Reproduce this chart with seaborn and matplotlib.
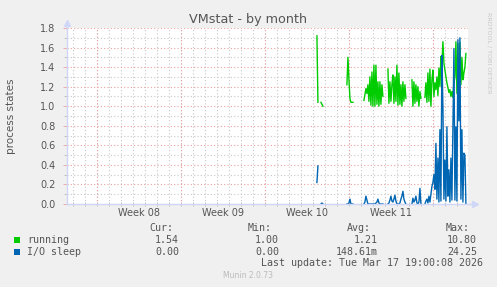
import numpy as np
import pandas as pd
import matplotlib
matplotlib.use("Agg")
import matplotlib.pyplot as plt
from matplotlib.ticker import MultipleLocator, FixedLocator, FormatStrFormatter
from matplotlib.patches import Rectangle
import seaborn as sns

nan = np.nan

# ---------------- data ----------------
# samples every 2 hours; time measured in days from the start of Week 08
FIRST_DAY = 18.33
STEP_DAYS = 1 / 12

running = [
    1.72, 1.04, nan, nan, 1.04, 1.02, 1.00,
    nan, nan, nan, nan, nan, nan, nan, nan, nan, nan, nan, nan,
    nan, nan, nan, nan, nan, nan, nan, nan, nan, nan, nan,
    1.22, 1.50, 1.28, 1.08, 1.04, 1.04, 1.04,
    nan, nan, nan, nan, nan, nan, nan, nan, nan, nan,
    1.06, 1.12, 1.18, 1.13, 1.22, 1.05, 1.30, 1.01, 1.35, 1.00,
    1.42, 1.00, 1.42, 1.02, 1.25, 1.00, 1.25, 1.02, 1.22, 1.10,
    nan, nan, nan, nan,
    1.38, 1.03, 1.25, 1.05, 1.22, 1.32, 1.03, 1.30, 1.05, 1.42,
    1.01, 1.34, 1.02, 1.22, 1.00, 1.25, 1.05, 1.22, 1.08,
    nan, nan, nan, nan, nan,
    1.27, 1.00, 1.25, 1.03, 1.22, 1.05, 1.20, 1.00, 1.15, 1.08,
    nan, nan, nan,
    1.09, 1.24, 1.04, 1.34, 1.05, 1.38, 1.00, 1.27, 1.37, 1.10,
    1.24, 1.17, 1.30, 1.11, 1.39, 1.20, 1.51, 1.42, 1.66, 1.44,
    1.37, 1.30, 1.24, 1.19, 1.14, 1.17, 1.10, 1.15, 1.09, 1.24,
    1.30, 1.66, 1.13, 1.64, 1.04, 1.65, 1.22, 1.50, 1.27, 1.34,
    1.40, 1.54,
]

io_sleep = [
    0.22, 0.39, nan, nan, 0.00, 0.01, 0.00,
    nan, nan, nan, nan, nan, nan, nan, nan, nan, nan, nan, nan,
    nan, nan, nan, nan, nan, nan, nan, nan, nan, nan, nan,
    0.00, 0.00, 0.01, 0.05, 0.00, 0.00, 0.00,
    nan, nan, nan, nan, nan, nan, nan, nan, nan, nan,
    0.00, 0.02, 0.08, 0.04, 0.00, 0.00, 0.00, 0.00, 0.00, 0.00,
    0.00, 0.00, 0.01, 0.02, 0.05, 0.01, 0.00, 0.00, 0.00, 0.00,
    nan, nan, nan, nan,
    0.00, 0.01, 0.04, 0.08, 0.03, 0.02, 0.05, 0.09, 0.03, 0.00,
    0.00, 0.00, 0.01, 0.05, 0.08, 0.13, 0.05, 0.02, 0.00,
    nan, nan, nan, nan, nan,
    0.00, 0.06, 0.02, 0.04, 0.08, 0.01, 0.00, 0.02, 0.16, 0.00,
    nan, nan, nan,
    0.00, 0.03, 0.05, 0.01, 0.08, 0.02, 0.10, 0.18, 0.22, 0.30,
    0.15, 0.62, 0.05, 0.47, 0.02, 0.76, 0.03, 1.52, 0.99, 0.05,
    0.45, 0.03, 0.79, 0.08, 0.35, 0.02, 0.47, 0.04, 0.79, 1.59,
    0.04, 0.79, 0.03, 1.68, 0.85, 1.70, 0.05, 0.76, 0.02, 0.52,
    0.50, 0.00,
]

week_labels = ["Week 08", "Week 09", "Week 10", "Week 11"]
week_starts = [0, 7, 14, 21, 28]
x_range = [-2.54, 30.92]
y_range = [0.0, 1.8]
y_ticks = [0.0, 0.2, 0.4, 0.6, 0.8, 1.0, 1.2, 1.4, 1.6, 1.8]

series_names = ["running", "I/O sleep"]
series_colors = ["#00CC00", "#0066B3"]
stat_headers = ["Cur:", "Min:", "Avg:", "Max:"]
stats_running = ["1.54", "1.00", "1.21", "10.80"]
stats_io = ["0.00", "0.00", "148.61m", "24.25"]
last_update = "Last update: Tue Mar 17 19:00:08 2026"
title = "VMstat - by month"
ylabel = "process states"
version = "Munin 2.0.73"
watermark = "RRDTOOL / TOBI OETIKER"

# ---------------- build long table ----------------
def to_frame(values, name):
    v = np.asarray(values, dtype=float)
    t = FIRST_DAY + np.arange(len(v)) * STEP_DAYS
    seg = np.cumsum(np.isnan(v))
    df = pd.DataFrame({"day": t, "value": v, "segment": seg, "series": name})
    return df.dropna()

df = pd.concat([to_frame(running, series_names[0]),
                to_frame(io_sleep, series_names[1])], ignore_index=True)

# ---------------- figure ----------------
W, H = 497, 287
FONT = "#555555"
fig = plt.figure(figsize=(W / 100, H / 100), dpi=100, facecolor="#F0F0F0")
L, R, T, B = 66.5, 468, 28, 204
ax = fig.add_axes([L / W, 1 - B / H, (R - L) / W, (B - T) / H])
ax.set_facecolor("white")

sns.lineplot(data=df, x="day", y="value", hue="series", units="segment",
             estimator=None, sort=False, palette=series_colors,
             hue_order=series_names, lw=1.0, legend=False, ax=ax)

# grid
GRID = "#C8C8C8"
MGRID = "#EBA0A0"
dots = (0, (1, 2))
ax.set_xlim(*x_range)
ax.set_ylim(*y_range)
ax.xaxis.set_minor_locator(MultipleLocator(1))
ax.xaxis.set_major_locator(FixedLocator([w + 3.5 for w in week_starts[:-1]]))
ax.yaxis.set_major_locator(FixedLocator(y_ticks))
ax.yaxis.set_major_formatter(FormatStrFormatter("%.1f"))
ax.yaxis.set_minor_locator(MultipleLocator(0.1))
ax.xaxis.grid(True, which="minor", color=GRID, lw=0.8, ls=dots)
ax.xaxis.grid(False, which="major")
ax.yaxis.grid(True, which="minor", color=GRID, lw=0.8, ls=dots)
ax.yaxis.grid(True, which="major", color=MGRID, lw=0.8, ls=dots)
for w in week_starts:
    ax.axvline(w, color=MGRID, lw=0.8, ls=dots, zorder=0.6)
ax.set_axisbelow(True)

ax.set_xticklabels(week_labels)
ax.tick_params(axis="x", which="major", length=0, pad=3, labelsize=7, labelcolor=FONT)
ax.tick_params(axis="x", which="minor", length=3, direction="inout", color="#BBBBBB", width=0.6)
ax.tick_params(axis="y", which="major", length=3, direction="out", color=MGRID, pad=5,
               labelsize=7, labelcolor=FONT, width=0.6)
ax.tick_params(axis="y", which="minor", length=2, direction="out", color="#BBBBBB", width=0.6)
ax.set_xlabel("")
ax.set_ylabel(ylabel, fontsize=7.5, color=FONT)
ax.yaxis.set_label_coords((16 - L) / (R - L), 0.5)
for s in ax.spines.values():
    s.set_visible(False)

# axis lines with arrows
AXIS = "#CFD6F8"
ax.plot([0, 1.018], [0, 0], color=AXIS, lw=1, transform=ax.transAxes, clip_on=False, zorder=5)
ax.plot([0, 0], [0, 1.03], color=AXIS, lw=1, transform=ax.transAxes, clip_on=False, zorder=5)
ax.plot([1.018], [0], marker=">", ms=4, color=AXIS, transform=ax.transAxes, clip_on=False, zorder=5)
ax.plot([0], [1.03], marker="^", ms=4, color=AXIS, transform=ax.transAxes, clip_on=False, zorder=5)

# ---------------- texts ----------------
def P(x, y):
    return x / W, 1 - y / H

fig.text(*P(248, 19.5), title, ha="center", va="center", fontsize=9.2, color=FONT)
fig.text(*P(489, 53), watermark, ha="center", va="center", rotation=270,
         fontsize=4.6, color="#C8C8C8")

mono = "DejaVu Sans Mono"
MS = 7.2
col_right = [173, 272, 371, 470]
val_right = [179, 279, 378, 477]
for hdr, xr in zip(stat_headers, col_right):
    fig.text(*P(xr, 227.7), hdr, ha="right", va="center", family=mono, fontsize=MS, color=FONT)
rows_y = [239.7, 251.7]
for name, color, stats, yy in zip(series_names, series_colors, [stats_running, stats_io], rows_y):
    fig.patches.append(Rectangle(P(14, yy + 3), 6 / W, 6 / H, transform=fig.transFigure,
                                 facecolor=color, edgecolor="none"))
    fig.text(*P(27, yy), name, ha="left", va="center", family=mono, fontsize=MS, color=FONT)
    for s, xr in zip(stats, val_right):
        fig.text(*P(xr, yy), s, ha="right", va="center", family=mono, fontsize=MS, color=FONT)
fig.text(*P(483, 263.3), last_update, ha="right", va="center", family=mono, fontsize=MS, color=FONT)
fig.text(*P(248, 276), version, ha="center", va="center", fontsize=5.5, color="#BBBBBB")

fig.savefig("out.png", dpi=100, facecolor=fig.get_facecolor())
